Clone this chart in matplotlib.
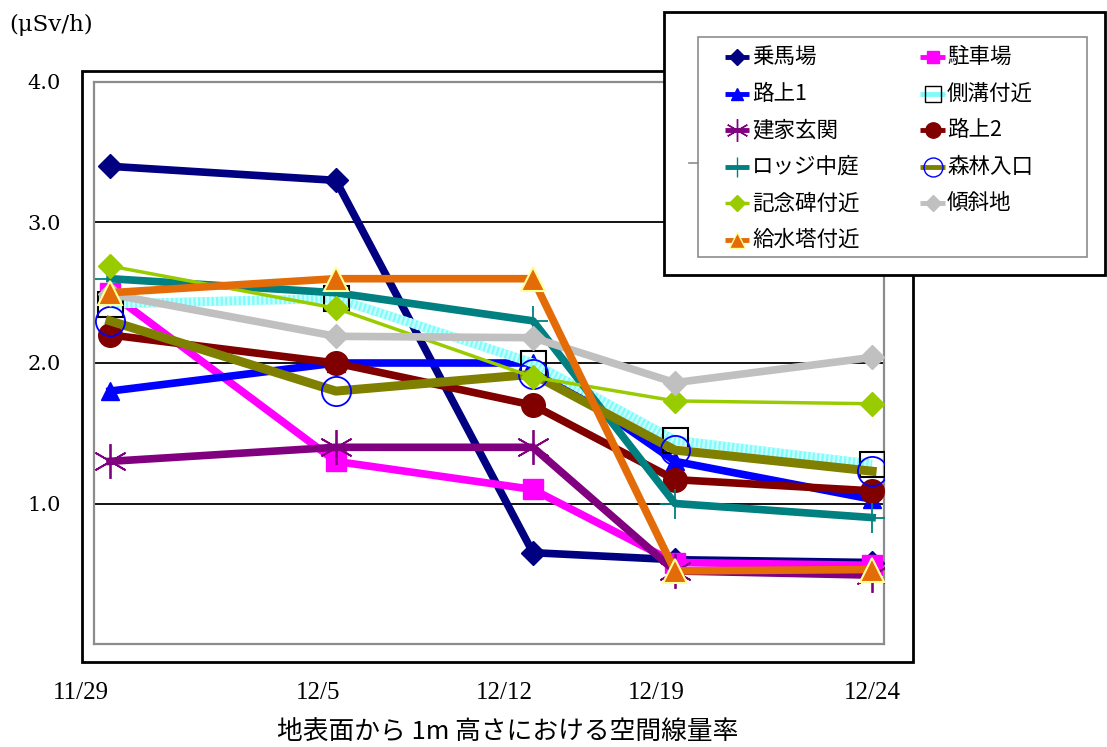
import matplotlib
matplotlib.use('Agg')
import matplotlib.pyplot as plt
from matplotlib.lines import Line2D
from matplotlib.patches import Rectangle

W, H = 1107, 747

# 測定日と各地点の空間線量率 (μSv/h)
dates = ['11/29', '12/5', '12/12', '12/19', '12/24']
x_pts = [0.43, 6.49, 11.78, 15.59, 20.88]     # 折れ線の横位置
x_lbl = [-0.35, 6.01, 11.0, 15.08, 20.9]      # 日付ラベルの横位置

names = ['乗馬場', '駐車場', '路上1', '側溝付近', '建家玄関', '路上2',
         'ロッジ中庭', '森林入口', '記念碑付近', '傾斜地', '給水塔付近']

jouba = [3.4, 3.3, 0.65, 0.6, 0.58]
chusha = [2.5, 1.3, 1.1, 0.58, 0.56]
rojou1 = [1.8, 2.0, 2.0, 1.3, 1.03]
sokkou = [2.42, 2.46, 2.0, 1.45, 1.28]
genkan = [1.3, 1.4, 1.4, 0.52, 0.49]
rojou2 = [2.2, 2.0, 1.7, 1.17, 1.09]
lodge = [2.6, 2.5, 2.3, 1.0, 0.9]
shinrin = [2.3, 1.8, 1.92, 1.38, 1.23]
kinenhi = [2.69, 2.39, 1.9, 1.73, 1.71]
keisha = [2.49, 2.19, 2.18, 1.86, 2.04]
kyusui = [2.5, 2.6, 2.6, 0.52, 0.53]

values = [jouba, chusha, rojou1, sokkou, genkan, rojou2,
          lodge, shinrin, kinenhi, keisha, kyusui]

# color, linewidth, marker, markersize, facecolor, edgecolor, edgewidth
styles = [
    ('#000080', 5.5, 'D', 12, '#000080', '#000080', 1),
    ('#ff00ff', 5.5, 's', 14, '#ff00ff', '#ff00ff', 1),
    ('#0000ff', 5.5, '^', 13, '#0000ff', '#0000ff', 1),
    ('#7ffbfb', 6.5, 's', 18, 'none', 'black', 1.5),
    ('#800080', 5.5, (6, 2, 0), 25, 'none', '#800080', 1.3),
    ('#800000', 5.5, 'o', 17, '#800000', '#800000', 1),
    ('#008080', 5.5, '+', 22, 'none', '#008080', 1.3),
    ('#808000', 6.5, 'o', 21, 'none', '#0000ff', 1.3),
    ('#99cc00', 2.5, 'D', 12, '#99cc00', '#99cc00', 1),
    ('#c0c0c0', 5.5, 'D', 12, '#c0c0c0', '#c0c0c0', 1),
    ('#e36c09', 5.5, '^', 17, '#e36c09', '#ffff99', 1.5),
]

jp = ['Noto Sans CJK JP', 'DejaVu Sans']


def fx(px):
    return px / W


def fy(py):
    return 1 - py / H


fig = plt.figure(figsize=(W / 100, H / 100), dpi=100)
ax = fig.add_axes([fx(94), fy(644), 790 / W, 562 / H])

for i, (vals, st) in enumerate(zip(values, styles)):
    color, lw, mk, ms, mfc, mec, mew = st
    z = 3 + i
    if i == 3:
        # 網掛け風の水色の線
        ax.plot(x_pts, vals, color=color, lw=lw, zorder=z, solid_capstyle='butt')
        ax.plot(x_pts, vals, color='#c8ffff', lw=lw, ls=(0, (0.25, 0.25)), zorder=z)
        ax.plot(x_pts, vals, ls='none', marker=mk, ms=ms, mfc=mfc, mec=mec,
                mew=mew, zorder=z)
    else:
        ax.plot(x_pts, vals, color=color, lw=lw, marker=mk, ms=ms, mfc=mfc,
                mec=mec, mew=mew, zorder=z)

ax.set_xlim(0, 21.2)
ax.set_ylim(0, 4.0)
ax.set_xticks([])
ax.set_yticks([1, 2, 3, 4])
ax.set_yticklabels(['1.0', '2.0', '3.0', '4.0'], family='DejaVu Serif', fontsize=15)
ax.tick_params(axis='y', length=0, pad=24)
ax.yaxis.grid(True, color='black', lw=1.3)
ax.set_axisbelow(True)
for sp in ax.spines.values():
    sp.set_color('#8c8c8c')
    sp.set_linewidth(1.6)

xt = ax.get_xaxis_transform()
for xl, d in zip(x_lbl, dates):
    ax.text(xl, (644 - 693) / 562, d, transform=xt, ha='center', va='center',
            family='Liberation Serif', fontsize=18)

fig.text(fx(508), fy(733), '地表面から 1m 高さにおける空間線量率', ha='center',
         va='center', family=jp, fontsize=18.5)
fig.text(fx(9), fy(25), '(μSv/h)', ha='left', va='center',
         family='DejaVu Serif', fontsize=16.5)

# グラフ外枠
fig.add_artist(Rectangle((fx(82), fy(662)), (913 - 82) / W, (662 - 71) / H,
                         transform=fig.transFigure, fill=False, ec='black',
                         lw=2, zorder=5))

# 凡例
fig.add_artist(Rectangle((fx(664), fy(275)), (1105 - 664) / W, (275 - 12) / H,
                         transform=fig.transFigure, fc='white', ec='black',
                         lw=2, zorder=10))
fig.add_artist(Rectangle((fx(698), fy(257)), (1087 - 698) / W, (257 - 37) / H,
                         transform=fig.transFigure, fill=False, ec='#8c8c8c',
                         lw=1.2, zorder=11))
fig.add_artist(Line2D([fx(689), fx(698)], [fy(163), fy(163)],
                      transform=fig.transFigure, color='#8c8c8c', lw=1.2, zorder=11))

for i, (name, st) in enumerate(zip(names, styles)):
    color, lw, mk, ms, mfc, mec, mew = st
    row, col = i // 2, i % 2
    y = fy(57 + 36.6 * row)
    x0, x1, xt0 = (725, 749, 752) if col == 0 else (920, 945, 947)
    fig.add_artist(Line2D([fx(x0), fx(x1)], [y, y], transform=fig.transFigure,
                          color=color, lw=min(lw, 3.5), zorder=12,
                          solid_capstyle='butt'))
    fig.add_artist(Line2D([fx((x0 + x1) / 2)], [y], transform=fig.transFigure,
                          ls='none', marker=mk, ms=ms * 0.65, mfc=mfc, mec=mec,
                          mew=min(mew, 1.0), zorder=13))
    fig.text(fx(xt0), y, name, ha='left', va='center', family=jp,
             fontsize=15.5, zorder=13)

fig.savefig('out.png', dpi=100)
